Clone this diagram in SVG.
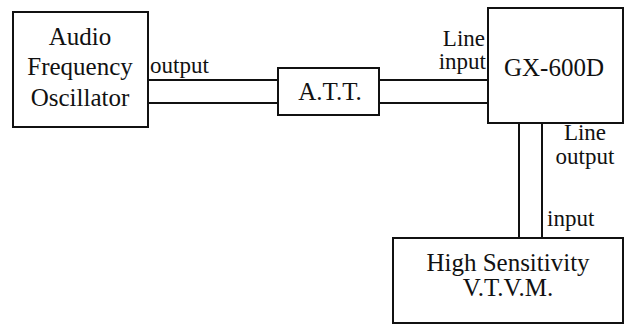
<svg xmlns="http://www.w3.org/2000/svg" width="636" height="333" viewBox="0 0 636 333">
<style>
.box{fill:#fff;stroke:#111;stroke-width:2}
.wire{stroke:#111;stroke-width:2;fill:none}
.t{font-family:"Liberation Serif",serif;font-size:25px;fill:#111}
.c{text-anchor:middle}
.e{text-anchor:end}
.lbl{font-size:23px}
</style>
<rect width="636" height="333" fill="#fff"/>
<g id="connectors">
<line class="wire" x1="148" y1="80" x2="278" y2="80"/>
<line class="wire" x1="148" y1="103" x2="278" y2="103"/>
<line class="wire" x1="379" y1="80" x2="488" y2="80"/>
<line class="wire" x1="379" y1="103" x2="488" y2="103"/>
<line class="wire" x1="519" y1="123" x2="519" y2="238"/>
<line class="wire" x1="542" y1="123" x2="542" y2="238"/>
</g>
<g id="oscillator">
<rect class="box" x="13" y="12" width="135" height="115"/>
<text class="t c" x="80" y="45">Audio</text>
<text class="t c" x="80" y="75">Frequency</text>
<text class="t c" x="80" y="106">Oscillator</text>
</g>
<g id="att">
<rect class="box" x="278" y="68" width="101" height="47"/>
<text class="t c" x="330" y="100">A.T.T.</text>
</g>
<g id="gx600d">
<rect class="box" x="488" y="8" width="135" height="115"/>
<text class="t c" x="554" y="76">GX-600D</text>
</g>
<g id="vtvm">
<rect class="box" x="393" y="238" width="230" height="85"/>
<text class="t c" x="508" y="271">High Sensitivity</text>
<text class="t c" x="508" y="296">V.T.V.M.</text>
</g>
<g id="labels">
<text class="t lbl" x="150" y="73">output</text>
<text class="t lbl e" x="485" y="46">Line</text>
<text class="t lbl e" x="486" y="69">input</text>
<text class="t lbl c" x="585" y="140">Line</text>
<text class="t lbl c" x="585" y="164">output</text>
<text class="t lbl" x="547" y="226">input</text>
</g>
</svg>
